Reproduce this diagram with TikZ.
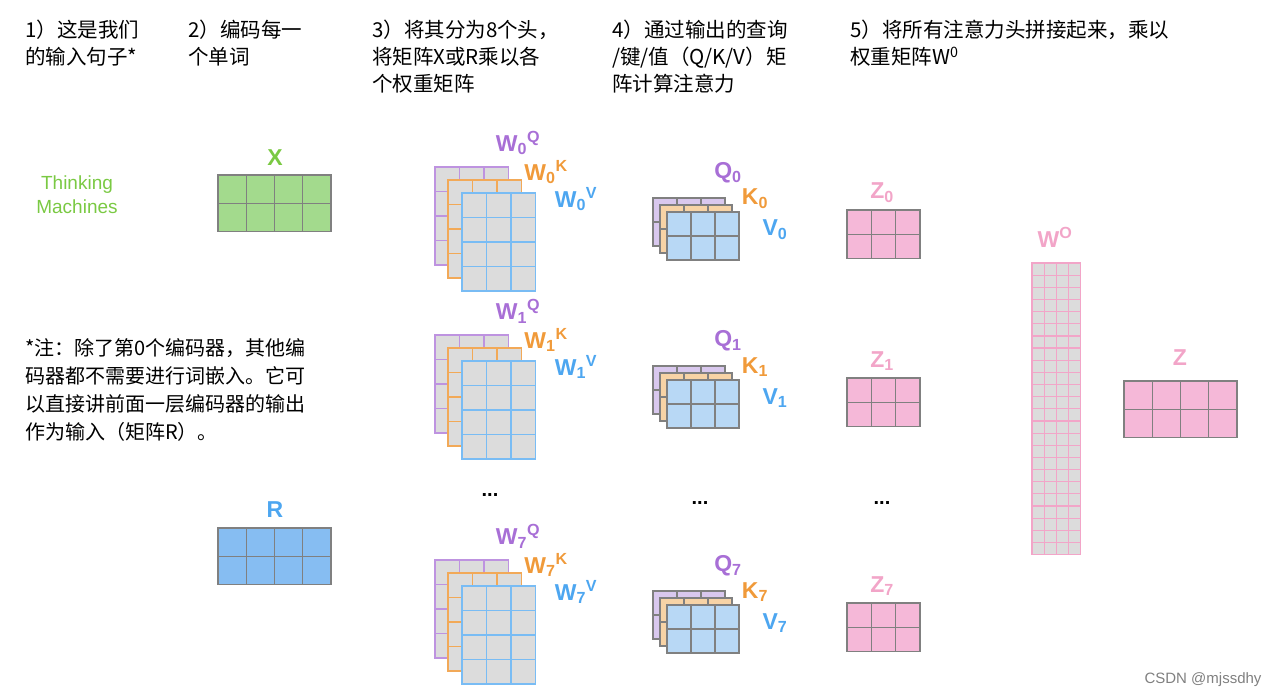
\documentclass[tikz,border=0pt]{standalone}
\usepackage{fontspec}
\setmainfont{Noto Sans CJK SC}
\newfontfamily\labelfont{Liberation Sans}
\definecolor{greencol}{HTML}{7AC943}
\definecolor{greenfill}{HTML}{A3DA8D}
\definecolor{bluecol}{HTML}{4DA6F0}
\definecolor{bluefill}{HTML}{86BDF2}
\definecolor{lightblue}{HTML}{B8D8F5}
\definecolor{purplecol}{HTML}{A86FD6}
\definecolor{purplefill}{HTML}{D9C8EE}
\definecolor{orangecol}{HTML}{F09A3A}
\definecolor{orangefill}{HTML}{F7D3A6}
\definecolor{pinkcol}{HTML}{F2A5C8}
\definecolor{pinkfill}{HTML}{F5B8D8}
\definecolor{cellgray}{HTML}{DCDCDC}
\tikzset{
    x={1pt},
    y={-1pt},
    header/.style={
        anchor=north west,
        align=left,
        font={\fontsize{20.5}{27}\selectfont},
        inner sep=0pt,
    },
    matrix label/.style={
        text={#1},
        font={\labelfont\bfseries\fontsize{23}{23}\selectfont},
        inner sep=0pt,
    },
    dots/.style={
        font={\labelfont\bfseries\fontsize{20}{20}\selectfont},
        inner sep=0pt,
    },
}
% #1 name, #2 x, #3 y, #4 cols, #5 rows, #6 cell, #7 fill, #8 line colour
\newcommand{\cellgrid}[8]{%
    \coordinate (#1) at (#2,#3);
    \path[fill={#7}, draw={#8}, line width=1.2pt] (#2,#3) rectangle ++({#4*#6},{#5*#6});
    \foreach \c in {1,...,#4} {\ifnum\c<#4\relax
        \draw[#8, line width=1.2pt] ({#2+\c*#6},#3) -- ++(0,{#5*#6});\fi}
    \foreach \r in {1,...,#5} {\ifnum\r<#5\relax
        \draw[#8, line width=1.2pt] (#2,{#3+\r*#6}) -- ++({#4*#6},0);\fi}
}
\begin{document}
\begin{tikzpicture}
\useasboundingbox (0,0) rectangle (1280,699);
% headers
\node[header] (h1) at (25,20) {1）这是我们\\的输入句子*};
\node[header] (h2) at (188,20) {2）编码每一\\个单词};
\node[header] (h3) at (372,20) {3）将其分为8个头，\\将矩阵X或R乘以各\\个权重矩阵};
\node[header] (h4) at (612,20) {4）通过输出的查询\\/键/值（Q/K/V）矩\\阵计算注意力};
\node[header] (h5) at (850,20) {5）将所有注意力头拼接起来，乘以\\权重矩阵W\textsuperscript{0}};
\node[header, font={\fontsize{20}{28}\selectfont}] (note) at (25,338) {*注：除了第0个编码器，其他编\\码器都不需要进行词嵌入。它可\\以直接讲前面一层编码器的输出\\作为输入（矩阵R）。};
% inputs
\node[text=greencol, align=center, font={\labelfont\fontsize{19}{24}\selectfont}] (sent) at (77,195) {Thinking\\Machines};
\node[matrix label=greencol] (xlab) at (275,158) {X};
\cellgrid{xmat}{218}{175}{4}{2}{28.25}{greenfill}{gray}
\node[matrix label=bluecol] (rlab) at (275,510) {R};
\cellgrid{rmat}{218}{528}{4}{2}{28.25}{bluefill}{gray}
% heads
\foreach \i/\dy in {0/0,1/168,7/393} {
    \cellgrid{wq\i}{435}{167+\dy}{3}{4}{24.5}{cellgray}{purplecol!75}
    \cellgrid{wk\i}{448}{180+\dy}{3}{4}{24.5}{cellgray}{orangecol!85}
    \cellgrid{wv\i}{462}{193+\dy}{3}{4}{24.5}{cellgray}{bluecol!75}
    \node[matrix label=purplecol] (wql\i) at (518,143+\dy) {W\textsubscript{\i}\textsuperscript{Q}};
    \node[matrix label=orangecol] (wkl\i) at (546,172+\dy) {W\textsubscript{\i}\textsuperscript{K}};
    \node[matrix label=bluecol] (wvl\i) at (576,199+\dy) {W\textsubscript{\i}\textsuperscript{V}};
    \cellgrid{q\i}{653}{198+\dy}{3}{2}{24}{purplefill}{gray}
    \cellgrid{k\i}{660}{205+\dy}{3}{2}{24}{orangefill}{gray}
    \cellgrid{v\i}{667}{212+\dy}{3}{2}{24}{lightblue}{gray}
    \node[matrix label=purplecol] (ql\i) at (728,173+\dy) {Q\textsubscript{\i}};
    \node[matrix label=orangecol] (kl\i) at (755,199+\dy) {K\textsubscript{\i}};
    \node[matrix label=bluecol] (vl\i) at (775,230+\dy) {V\textsubscript{\i}};
    \node[matrix label=pinkcol] (zl\i) at (882,193+\dy) {Z\textsubscript{\i}};
    \cellgrid{z\i}{847}{210+\dy}{3}{2}{24.3}{pinkfill}{gray}
}
\node[dots] (d1) at (490,495) {...};
\node[dots] (d2) at (700,503) {...};
\node[dots] (d3) at (882,503) {...};
% output
\node[matrix label=pinkcol] (wol) at (1055,237) {W\textsuperscript{O}};
\cellgrid{wo}{1032}{263}{4}{24}{12.15}{cellgray}{pinkcol}
\node[matrix label=pinkcol] (zlab) at (1180,358) {Z};
\cellgrid{zmat}{1124}{381}{4}{2}{28.25}{pinkfill}{gray}
\node[text=gray, font={\labelfont\fontsize{15}{15}\selectfont}, anchor=east] (wm) at (1265,680) {CSDN @mjssdhy};
\end{tikzpicture}
\end{document}
